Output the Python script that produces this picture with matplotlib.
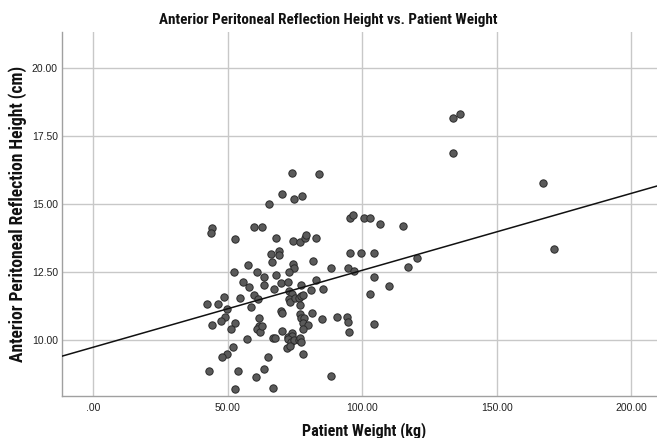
import matplotlib
matplotlib.use("Agg")
import matplotlib.pyplot as plt
from matplotlib import font_manager
from matplotlib.ticker import FuncFormatter, FixedLocator

# ---- data ----
weight_kg = [73.9, 83.9, 70.2, 74.5, 77.5, 65.2, 44.2, 43.8, 59.8, 62.9,
             52.8, 68.0, 74.2, 77.0, 78.8, 79.2, 82.9, 95.5, 96.4, 100.7,
             102.9, 106.6, 115.2, 95.5, 99.7, 104.2, 66.0, 69.2, 69.2, 81.6,
             66.5, 57.4, 74.3, 74.7, 88.3, 94.8, 96.8, 52.4, 61.0, 63.5,
             68.0, 72.8, 104.2, 120.2, 117.1, 109.9, 55.6, 58.0, 63.5, 69.7,
             72.5, 77.1, 82.8, 67.2, 81.0, 85.3, 103.0, 48.8, 59.8, 61.4,
             54.7, 72.9, 73.9, 72.8, 73.3, 75.0, 76.6, 77.2, 78.1, 76.9,
             42.4, 46.5, 49.9, 58.7, 48.9, 47.5, 44.3, 52.9, 51.1, 61.5,
             61.5, 61.0, 62.0, 62.8, 69.8, 70.3, 76.8, 77.2, 78.4, 78.1,
             79.7, 78.0, 81.5, 85.1, 90.7, 94.2, 94.8, 95.2, 104.2, 70.3,
             57.1, 66.8, 67.7, 72.3, 73.8, 73.9, 72.5, 73.6, 74.7, 76.6,
             77.0, 77.2, 71.9, 73.3, 51.9, 49.9, 47.8, 78.0, 65.1, 63.4,
             43.0, 53.8, 60.6, 88.4, 52.8, 66.8, 133.7, 136.3, 133.7, 167.0,
             171.2]
height_cm = [16.15, 16.10, 15.36, 15.19, 15.31, 15.01, 14.11, 13.94, 14.15, 14.15,
             13.70, 13.75, 13.65, 13.59, 13.76, 13.86, 13.75, 14.50, 14.60, 14.50,
             14.50, 14.25, 14.20, 13.20, 13.20, 13.20, 13.15, 13.27, 13.14, 12.92,
             12.88, 12.76, 12.79, 12.66, 12.66, 12.66, 12.55, 12.49, 12.49, 12.32,
             12.40, 12.49, 12.33, 13.00, 12.69, 12.00, 12.14, 11.95, 12.01, 12.10,
             12.13, 12.01, 12.21, 11.89, 11.85, 11.89, 11.70, 11.59, 11.64, 11.51,
             11.56, 11.81, 11.69, 11.49, 11.41, 11.56, 11.56, 11.62, 11.66, 11.29,
             11.31, 11.31, 11.15, 11.21, 10.86, 10.69, 10.55, 10.61, 10.40, 10.80,
             10.51, 10.41, 10.31, 10.50, 11.07, 10.99, 10.95, 10.81, 10.81, 10.63,
             10.55, 10.40, 11.00, 10.76, 10.86, 10.86, 10.66, 10.31, 10.60, 10.33,
             10.04, 10.09, 10.08, 10.11, 10.25, 10.13, 10.02, 9.93, 10.00, 10.00,
             10.08, 9.93, 9.72, 9.78, 9.75, 9.49, 9.39, 9.50, 9.39, 8.94,
             8.85, 8.87, 8.64, 8.69, 8.18, 8.24, 18.16, 18.31, 16.86, 15.76,
             13.35]

# fit line
fit_intercept = 9.73
fit_slope = 0.0283

x_ticks = [0, 50, 100, 150, 200]
y_ticks = [10.0, 12.5, 15.0, 17.5, 20.0]
x_lim = (-11.5, 209.5)
y_lim = (7.94, 21.32)

title = "Anterior Peritoneal Reflection Height vs. Patient Weight"
x_label = "Patient Weight (kg)"
y_label = "Anterior Peritoneal Reflection Height (cm)"

# ---- fonts ----
available = {f.name for f in font_manager.fontManager.ttflist}
cond = "DejaVu Sans"
for name in ["Liberation Sans Narrow", "Roboto Condensed", "DejaVu Sans Condensed"]:
    if name in available:
        cond = name
        break
tick_font = "Liberation Sans" if "Liberation Sans" in available else "DejaVu Sans"

W, H = 657, 438
fig = plt.figure(figsize=(W / 100, H / 100), dpi=100)
ax = fig.add_axes([62 / W, 1 - 396 / H, (W - 62) / W, (396 - 32) / H])

ax.set_xlim(*x_lim)
ax.set_ylim(*y_lim)
ax.xaxis.set_major_locator(FixedLocator(x_ticks))
ax.yaxis.set_major_locator(FixedLocator(y_ticks))


def fmt(v, pos):
    s = f"{v:.2f}"
    if s.startswith("0."):
        s = s[1:]
    return s


ax.xaxis.set_major_formatter(FuncFormatter(fmt))
ax.yaxis.set_major_formatter(FuncFormatter(fmt))

ax.grid(True, color="#c8c8c8", linewidth=1.0)
ax.set_axisbelow(True)
for side in ["top", "right"]:
    ax.spines[side].set_visible(False)
for side in ["left", "bottom"]:
    ax.spines[side].set_color("#a0a0a0")
    ax.spines[side].set_linewidth(1.0)

ax.tick_params(length=0, labelsize=7.5, colors="#222222")
ax.tick_params(axis="x", pad=5)
ax.tick_params(axis="y", pad=3)
for lab in ax.get_xticklabels() + ax.get_yticklabels():
    lab.set_family(tick_font)

ax.scatter(weight_kg, height_cm, s=28, facecolor="#5a5a5a", edgecolor="#2a2a2a",
           linewidths=0.7, zorder=3)

xs = list(x_lim)
ax.plot(xs, [fit_intercept + fit_slope * v for v in xs], color="#111111",
        linewidth=1.1, zorder=4)

t_title = fig.text(328 / W, 1 - 20 / H, title, ha="center", va="center",
                   fontsize=10, fontweight="bold", family=cond, color="#111111")
t_x = fig.text(364.5 / W, 1 - 430.5 / H, x_label, ha="center", va="center",
               fontsize=10, fontweight="bold", family=cond, color="#111111")
t_y = fig.text(18 / W, 1 - 213.5 / H, y_label, ha="center", va="center",
               rotation=90, fontsize=10, fontweight="bold", family=cond,
               color="#111111")

# fit text sizes to the widths measured on the reference
renderer = fig.canvas.get_renderer()
for t, target, along in [(t_title, 340, "w"), (t_x, 124, "w"), (t_y, 297, "h")]:
    bb = t.get_window_extent(renderer=renderer)
    cur = bb.width if along == "w" else bb.height
    t.set_fontsize(t.get_fontsize() * target / cur)

fig.savefig("out.png", dpi=100)
